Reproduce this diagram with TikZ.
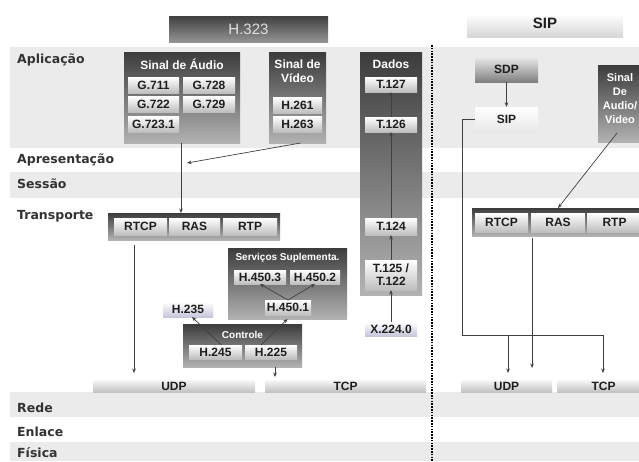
\documentclass[tikz,border=0pt]{standalone}
\usepackage{fontspec}
\setmainfont{Liberation Sans}
\newfontfamily\layfont{DejaVu Sans}
\usetikzlibrary{arrows.meta}
\definecolor{bandC}{HTML}{EBEBEB}
\definecolor{darkA}{HTML}{3C3C3C}
\definecolor{darkB}{HTML}{B2B2B2}
\definecolor{subB}{HTML}{BEBEBE}
\definecolor{lavB}{HTML}{C6C6DA}
\definecolor{lineC}{HTML}{404040}
\definecolor{txtC}{HTML}{1E1E1E}
\definecolor{layC}{HTML}{333333}
% box from corner (x1,y1) to (x2,y2)
\newcommand\bx[7][]{\node[#1,minimum width={#5-#3},minimum height={#6-#4}] (#2) at ({(#3+#5)/2},{(#4+#6)/2}) {#7};}
\begin{document}
\begin{tikzpicture}[x=1pt,y=-1pt,
  darkbox/.style={top color=darkA,bottom color=darkB,draw=none,inner sep=0pt,outer sep=0pt},
  subbox/.style={top color=white,bottom color=subB,draw=none,inner sep=0pt,outer sep=0pt,
     font=\fontsize{12}{12.5}\selectfont\bfseries,text=txtC},
  lavbox/.style={subbox,bottom color=lavB},
  barbox/.style={top color=white!97!black,bottom color=black!24,draw=none,inner sep=0pt,outer sep=0pt,
     font=\fontsize{12}{12.5}\selectfont\bfseries,text=txtC},
  ttl/.style={font=\fontsize{12}{14}\selectfont\bfseries,text=white,align=center,inner sep=0pt},
  smallttl/.style={font=\fontsize{10}{12}\selectfont\bfseries,text=white,inner sep=0pt},
  layer/.style={font=\layfont\fontsize{12.5}{14}\selectfont\bfseries,text=layC,anchor=base west,inner sep=0pt},
  arr/.style={draw=lineC,line width=0.7pt,-{Stealth[length=4.5pt,width=3.6pt]}},
  plain/.style={draw=lineC,line width=0.7pt}]
\useasboundingbox (0,0) rectangle (639,461);
\clip (0,0) rectangle (639,461);
\fill[white] (0,0) rectangle (639,461);
% layer bands
\fill[bandC] (10,47) rectangle (639,148);
\fill[bandC] (10,172) rectangle (639,198);
\fill[bandC] (10,392) rectangle (639,417);
\fill[bandC] (10,442) rectangle (639,461);
% layer labels
\node[layer] (lapl) at (17,63) {Aplicação};
\node[layer] (lapr) at (17,163) {Apresentação};
\node[layer] (lses) at (17,188) {Sessão};
\node[layer] (ltra) at (17,219) {Transporte};
\node[layer] (lred) at (17,412) {Rede};
\node[layer] (lenl) at (17,436) {Enlace};
\node[layer] (lfis) at (17,457.5) {Física};
% headers
\bx[top color=black!75,bottom color=black!42,draw=none,inner sep=0pt,
    font=\fontsize{15}{17}\selectfont,text=white!88!black]{h323}{169}{16}{328}{42}{H.323}
\bx[top color=white,bottom color=black!16,draw=none,inner sep=0pt]{siph}{467}{14}{623}{37}{}
\node[font=\fontsize{15}{17}\selectfont\bfseries,text=txtC] (sipt) at (545,23) {SIP};
% divider
\draw[line width=2.2pt,dash pattern=on 1.6pt off 1.2pt,black] (432,45) -- (432,461);
% ---------- H.323 ----------
% audio
\bx[darkbox]{audio}{124}{52}{240}{143}{}
\node[ttl] (audiot) at (182,64) {Sinal de Áudio};
\bx[subbox]{g711}{128}{77}{179}{93}{G.711}
\bx[subbox]{g728}{183}{77}{235}{93}{G.728}
\bx[subbox]{g722}{128}{96}{179}{112}{G.722}
\bx[subbox]{g729}{183}{96}{235}{112}{G.729}
\bx[subbox]{g7231}{128}{116}{179}{132}{G.723.1}
% video
\bx[darkbox]{video}{269}{52}{326}{143}{}
\node[ttl] (videot) at (297.5,71) {Sinal de\\Vídeo};
\bx[subbox]{h261}{273}{97}{322}{113}{H.261}
\bx[subbox]{h263}{273}{116}{322}{132}{H.263}
% dados
\bx[darkbox]{dados}{360}{52}{422}{295}{}
\node[ttl] (dadost) at (391,64) {Dados};
\bx[subbox]{t127}{365}{77}{417}{92}{T.127}
\bx[subbox]{t126}{365}{117}{417}{132}{T.126}
\bx[subbox]{t124}{365}{218}{417}{235}{T.124}
\bx[subbox,align=center,font=\fontsize{12}{13}\selectfont\bfseries]{t125}{365}{260}{417}{290}{T.125 /\\T.122}
\bx[lavbox]{x224}{365}{322}{417}{336}{X.224.0}
\draw[arr] (t126.north) -- (t127.south);
\draw[arr] (t124.north) -- (t126.south);
\draw[arr] (t125.north) -- (t124.south);
\draw[arr] (x224.north) -- (t125.south);
% transport H.323
\bx[darkbox]{trans}{108}{213}{280}{240}{}
\bx[subbox]{rtcp}{114}{218}{167}{235}{RTCP}
\bx[subbox]{ras}{169}{218}{220}{235}{RAS}
\bx[subbox]{rtp}{223}{218}{277}{235}{RTP}
% UDP/TCP H.323
\bx[barbox]{udp}{93}{380}{255}{392}{UDP}
\bx[barbox]{tcp}{265}{380}{426}{392}{TCP}
% audio / video connectors
\coordinate (vj) at (187,163);
\draw[arr] (audio.south -| 181,0) -- (trans.north -| 181,0);
\draw[arr] ([xshift=3pt]video.south) -- (vj);
\draw[arr] ([yshift=-5pt]trans.south -| 134,0) -- ([yshift=7pt]udp.north -| 134,0);
% servicos
\bx[darkbox]{serv}{228}{248}{347}{319}{}
\node[smallttl] (servt) at (287.5,258) {Serviços Suplementa.};
\bx[subbox]{h4503}{234}{270}{286}{284}{H.450.3}
\bx[subbox]{h4502}{290}{270}{340}{284}{H.450.2}
\bx[subbox]{h4501}{265}{300}{311}{315}{H.450.1}
\draw[arr] (h4501.north) -- (h4503.south);
\draw[arr] (h4501.north) -- (h4502.south);
% H.235 and controle
\bx[lavbox]{h235}{163}{302}{213}{317}{H.235}
\bx[darkbox]{ctrl}{183}{324}{302}{367}{}
\node[smallttl] (ctrlt) at (242.5,335) {Controle};
\bx[subbox]{h245}{189}{345}{242}{359}{H.245}
\bx[subbox]{h225}{245}{345}{297}{359}{H.225}
\draw[arr] ([xshift=6pt]h245.north) -- ([xshift=4pt]h235.south);
\draw[arr] ([xshift=-10pt]h225.north) -- (serv.south);
\draw[arr] (ctrl.south -| 275,0) -- ([yshift=3pt]tcp.north -| 275,0);
% ---------- SIP ----------
\bx[top color=black!8,bottom color=black!50,draw=none,inner sep=0pt,
   font=\fontsize{12}{12.5}\selectfont\bfseries,text=txtC]{sdp}{475}{57}{538}{82}{SDP}
\bx[top color=white,bottom color=black!9,draw=none,inner sep=0pt,
   font=\fontsize{12}{12.5}\selectfont\bfseries,text=txtC]{sip}{475}{107}{538}{132}{SIP}
\draw[arr] (sdp.south) -- (sip.north);
\bx[darkbox]{savid}{598}{65}{652}{142}{}
\node[ttl,font=\fontsize{11}{14}\selectfont\bfseries] (savidt) at (620,99) {Sinal\\De\\Audio/\\Video};
\bx[darkbox]{trans2}{472}{208}{650}{236}{}
\bx[subbox]{rtcp2}{475}{213}{528}{232}{RTCP}
\bx[subbox]{ras2}{531}{213}{585}{232}{RAS}
\bx[subbox]{rtp2}{587}{213}{642}{232}{RTP}
\bx[barbox]{udp2}{461}{380}{552}{392}{UDP}
\bx[barbox]{tcp2}{557}{380}{650}{392}{TCP}
\coordinate (sa) at (462,335);
\coordinate (sm) at (508,335);
\coordinate (sb) at (603,335);
\draw[plain] (sip.west) -| (sa) -- (sb);
\draw[arr] (sb) -- ([yshift=7pt]tcp2.north -| sb);
\draw[arr] (sm) -- ([yshift=7pt]udp2.north -| sm);
\coordinate (sv) at (617,133);
\draw[arr] (sv) -- (trans2.north -| 558,0);
\draw[arr] ([yshift=-2pt]trans2.south -| 532,0) -- ([yshift=12pt]udp2.north -| 532,0);
\end{tikzpicture}
\end{document}
